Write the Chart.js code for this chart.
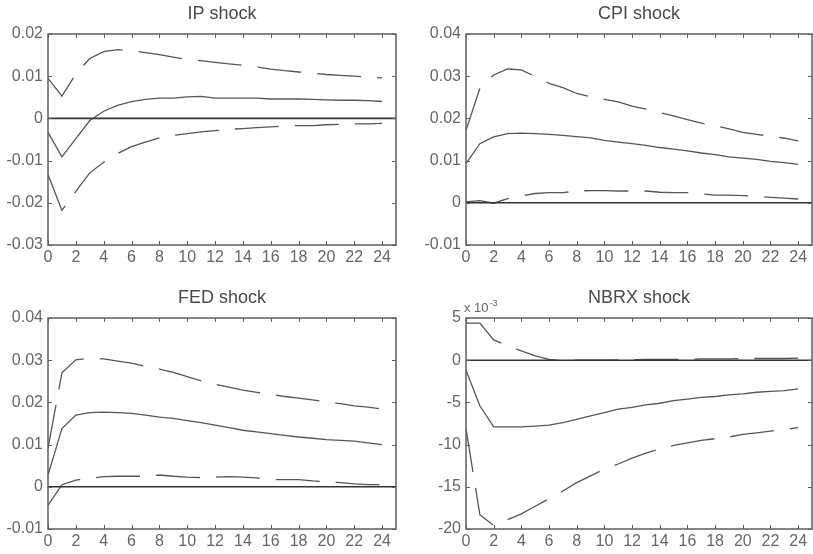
<!DOCTYPE html>
<html>
<head>
<meta charset="utf-8">
<script src="https://cdn.jsdelivr.net/npm/chart.js@4"></script>
<style>
    body { margin: 0; background: #fff; }
    #wrap { position: relative; width: 813px; height: 554px; }
    canvas { position: absolute; }
</style>
</head>
<body>
<div id="wrap">
    <canvas id="ip" width="406" height="277" style="left:0;top:0"></canvas>
    <canvas id="cpi" width="395" height="277" style="left:418px;top:0"></canvas>
    <canvas id="fed" width="406" height="277" style="left:0;top:284px"></canvas>
    <canvas id="nbrx" width="395" height="277" style="left:418px;top:284px"></canvas>
</div>
<script>
const horizon = [0, 1, 2, 3, 4, 5, 6, 7, 8, 9, 10, 11, 12, 13, 14, 15, 16, 17, 18, 19, 20, 21, 22, 23, 24];
const xTicks = [0, 2, 4, 6, 8, 10, 12, 14, 16, 18, 20, 22, 24];

// IP shock
const ipMid = [-0.0033, -0.0091, -0.0048, -0.0005, 0.0017, 0.0031, 0.0040, 0.0045, 0.0048, 0.0048, 0.0051, 0.0052, 0.0048,
    0.0048, 0.0048, 0.0048, 0.0046, 0.0046, 0.0046, 0.0045, 0.0044, 0.0043, 0.0043, 0.0042, 0.0040];
const ipUp = [0.0095, 0.0053, 0.0105, 0.0142, 0.0158, 0.0163, 0.0160, 0.0156, 0.0151, 0.0145, 0.0140, 0.0137, 0.0133,
    0.0129, 0.0126, 0.0122, 0.0117, 0.0113, 0.0110, 0.0107, 0.0104, 0.0102, 0.0100, 0.0098, 0.0096];
const ipLow = [-0.0133, -0.0218, -0.0173, -0.0129, -0.0104, -0.0083, -0.0067, -0.0056, -0.0046, -0.0040, -0.0036, -0.0032, -0.0029,
    -0.0026, -0.0024, -0.0022, -0.0020, -0.0018, -0.0017, -0.0017, -0.0015, -0.0014, -0.0013, -0.0013, -0.0012];
const ipTicks = [-0.03, -0.02, -0.01, 0, 0.01, 0.02];

// CPI shock
const cpiMid = [0.0093, 0.0140, 0.0156, 0.0164, 0.0165, 0.0164, 0.0162, 0.0160, 0.0157, 0.0154, 0.0148, 0.0144, 0.0140,
    0.0136, 0.0131, 0.0127, 0.0123, 0.0118, 0.0114, 0.0109, 0.0106, 0.0103, 0.0098, 0.0095, 0.0091];
const cpiUp = [0.0172, 0.0271, 0.0303, 0.0317, 0.0315, 0.0299, 0.0283, 0.0273, 0.0259, 0.0251, 0.0245, 0.0239, 0.0229,
    0.0222, 0.0214, 0.0206, 0.0197, 0.0189, 0.0183, 0.0175, 0.0167, 0.0162, 0.0158, 0.0153, 0.0147];
const cpiLow = [0.0002, 0.0005, -0.0001, 0.0010, 0.0016, 0.0022, 0.0024, 0.0024, 0.0028, 0.0029, 0.0029, 0.0028, 0.0028,
    0.0028, 0.0025, 0.0024, 0.0024, 0.0021, 0.0018, 0.0018, 0.0017, 0.0015, 0.0013, 0.0011, 0.0009];
const cpiTicks = [-0.01, 0, 0.01, 0.02, 0.03, 0.04];

// FED shock
const fedMid = [0.0028, 0.0138, 0.0170, 0.0176, 0.0177, 0.0176, 0.0174, 0.0170, 0.0165, 0.0162, 0.0157, 0.0152, 0.0146,
    0.0140, 0.0134, 0.0130, 0.0126, 0.0122, 0.0118, 0.0115, 0.0112, 0.0110, 0.0108, 0.0104, 0.0100];
const fedUp = [0.0091, 0.0270, 0.0301, 0.0305, 0.0303, 0.0298, 0.0293, 0.0285, 0.0279, 0.0271, 0.0261, 0.0251, 0.0243,
    0.0236, 0.0229, 0.0224, 0.0219, 0.0214, 0.0210, 0.0206, 0.0201, 0.0197, 0.0192, 0.0189, 0.0184];
const fedLow = [-0.0044, 0.0005, 0.0016, 0.0020, 0.0024, 0.0025, 0.0025, 0.0025, 0.0028, 0.0025, 0.0023, 0.0022, 0.0023,
    0.0024, 0.0023, 0.0021, 0.0017, 0.0017, 0.0017, 0.0014, 0.0012, 0.0010, 0.0007, 0.0005, 0.0005];
const fedTicks = [-0.01, 0, 0.01, 0.02, 0.03, 0.04];

// NBRX shock (values in units of 10^-3)
const nbrxMid = [-1.2, -5.4, -7.9, -7.9, -7.9, -7.8, -7.7, -7.4, -7.0, -6.6, -6.2, -5.8, -5.6,
    -5.3, -5.1, -4.8, -4.6, -4.4, -4.3, -4.1, -4.0, -3.8, -3.7, -3.6, -3.4];
const nbrxUp = [4.4, 4.4, 2.4, 1.7, 1.1, 0.5, 0.1, -0.1, 0.0, 0.0, 0.0, 0.05, 0.05,
    0.1, 0.1, 0.1, 0.1, 0.15, 0.15, 0.15, 0.2, 0.2, 0.2, 0.2, 0.25];
const nbrxLow = [-8.1, -18.3, -19.6, -18.9, -18.2, -17.3, -16.4, -15.5, -14.5, -13.7, -12.9, -12.3, -11.6,
    -11.0, -10.5, -10.1, -9.8, -9.5, -9.3, -9.1, -8.8, -8.6, -8.4, -8.2, -8.0];
const nbrxTicks = [-20, -15, -10, -5, 0, 5];

const lineColor = '#555';
const axisColor = '#5e5e5e';
const textColor = '#666';
const fontFamily = '"Liberation Sans", Arial, sans-serif';

function pts(values) {
    return horizon.map((h, i) => ({ x: h, y: values[i] }));
}

// box, inward tick marks, title and exponent label
const panelDecor = {
    id: 'panelDecor',
    afterDraw(chart, args, opts) {
        const { ctx, chartArea: a, scales } = chart;
        ctx.save();
        ctx.strokeStyle = axisColor;
        ctx.lineWidth = 1;
        ctx.beginPath();
        scales.x.ticks.forEach(t => {
            const px = Math.round(scales.x.getPixelForValue(t.value)) + 0.5;
            ctx.moveTo(px, a.bottom); ctx.lineTo(px, a.bottom - 4);
            ctx.moveTo(px, a.top); ctx.lineTo(px, a.top + 4);
        });
        scales.y.ticks.forEach(t => {
            const py = Math.round(scales.y.getPixelForValue(t.value)) + 0.5;
            ctx.moveTo(a.left, py); ctx.lineTo(a.left + 4, py);
            ctx.moveTo(a.right, py); ctx.lineTo(a.right - 4, py);
        });
        ctx.stroke();
        ctx.lineWidth = 1.5;
        ctx.strokeRect(a.left, a.top, a.right - a.left, a.bottom - a.top);

        ctx.fillStyle = '#4a4a4a';
        ctx.font = '18px ' + fontFamily;
        ctx.textAlign = 'center';
        ctx.textBaseline = 'middle';
        ctx.fillText(opts.title, (a.left + a.right) / 2, 14);

        if (opts.exponent) {
            ctx.fillStyle = textColor;
            ctx.textAlign = 'left';
            ctx.textBaseline = 'alphabetic';
            ctx.font = '13px ' + fontFamily;
            const base = 'x 10';
            ctx.fillText(base, a.left - 2, a.top - 6);
            const w = ctx.measureText(base).width;
            ctx.font = '9px ' + fontFamily;
            ctx.fillText(opts.exponent, a.left - 2 + w + 1, a.top - 12);
        }
        ctx.restore();
    }
};

function makePanel(id, title, mid, up, low, yTicks, exponent, padRight) {
    const ctx = document.getElementById(id).getContext('2d');
    return new Chart(ctx, {
        type: 'line',
        data: {
            datasets: [
                {
                    data: [{ x: 0, y: 0 }, { x: 25, y: 0 }],
                    borderColor: '#333',
                    borderWidth: 1.6
                },
                {
                    data: pts(up),
                    borderColor: lineColor,
                    borderWidth: 1.3,
                    borderDash: [44, 16]
                },
                {
                    data: pts(mid),
                    borderColor: lineColor,
                    borderWidth: 1.3
                },
                {
                    data: pts(low),
                    borderColor: lineColor,
                    borderWidth: 1.3,
                    borderDash: [44, 16]
                }
            ]
        },
        options: {
            responsive: false,
            animation: false,
            devicePixelRatio: 1,
            layout: { padding: { left: 0, right: padRight, top: 34, bottom: 0 } },
            elements: { point: { radius: 0 }, line: { tension: 0 } },
            plugins: {
                legend: { display: false },
                tooltip: { enabled: false },
                panelDecor: { title: title, exponent: exponent }
            },
            scales: {
                x: {
                    type: 'linear',
                    min: 0,
                    max: 25,
                    afterBuildTicks: s => { s.ticks = xTicks.map(v => ({ value: v })); },
                    afterFit: s => { s.height = 32; },
                    grid: { display: false, drawTicks: false },
                    border: { display: false },
                    ticks: {
                        padding: 3,
                        maxRotation: 0,
                        autoSkip: false,
                        color: textColor,
                        font: { family: fontFamily, size: 16 },
                        callback: v => String(v)
                    }
                },
                y: {
                    type: 'linear',
                    min: yTicks[0],
                    max: yTicks[yTicks.length - 1],
                    afterBuildTicks: s => { s.ticks = yTicks.map(v => ({ value: v })); },
                    afterFit: s => { s.width = 48; },
                    grid: { display: false, drawTicks: false },
                    border: { display: false },
                    ticks: {
                        padding: 5,
                        autoSkip: false,
                        color: textColor,
                        font: { family: fontFamily, size: 16 },
                        callback: v => String(v)
                    }
                }
            }
        },
        plugins: [panelDecor]
    });
}

makePanel('ip', 'IP shock', ipMid, ipUp, ipLow, ipTicks, null, 10);
makePanel('cpi', 'CPI shock', cpiMid, cpiUp, cpiLow, cpiTicks, null, 1);
makePanel('fed', 'FED shock', fedMid, fedUp, fedLow, fedTicks, null, 10);
makePanel('nbrx', 'NBRX shock', nbrxMid, nbrxUp, nbrxLow, nbrxTicks, '-3', 1);
</script>
</body>
</html>
